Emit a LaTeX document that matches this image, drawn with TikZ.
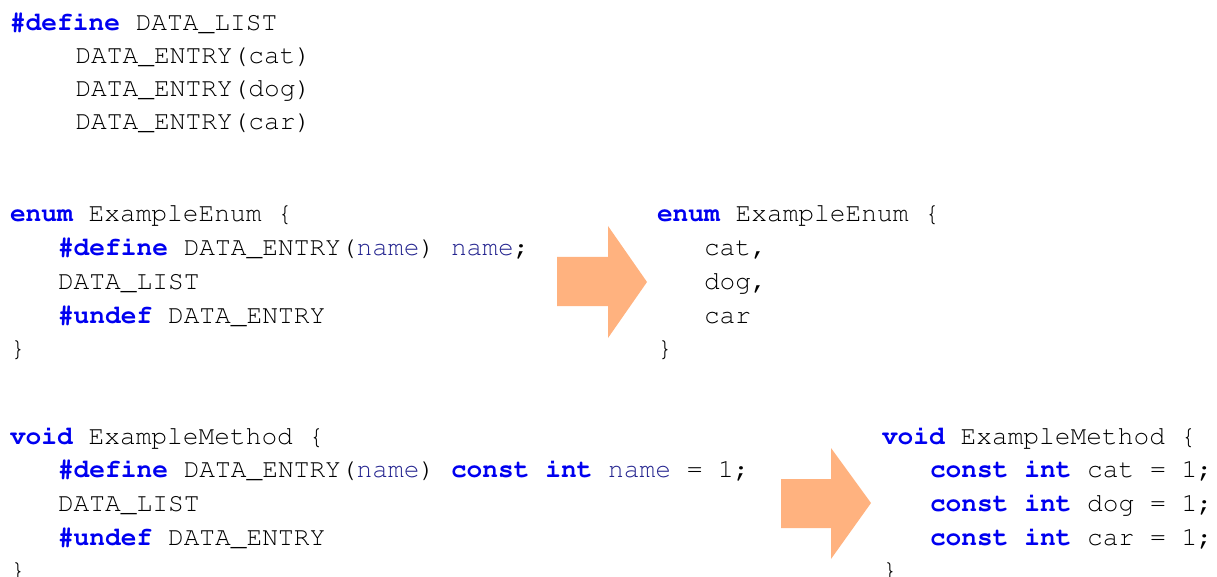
\documentclass[tikz,border=0pt]{standalone}
\usepackage[T1]{fontenc}
\definecolor{kwblue}{HTML}{0000F0}
\definecolor{argblue}{HTML}{24248F}
\definecolor{txtgray}{HTML}{000000}
\definecolor{arrowfill}{HTML}{FFB27F}
\newcommand{\codefont}{\fontencoding{T1}\fontfamily{pcr}\selectfont}
\newcommand{\kw}[1]{{\color{kwblue}\bfseries #1}}
\newcommand{\parm}[1]{{\color{argblue}#1}}
\tikzset{
  codeline/.style={anchor=base west, inner sep=0pt, outer sep=0pt, text=txtgray,
    font=\codefont\fontsize{26.2}{33.7}\selectfont},
  bigarrow/.style={fill=arrowfill, draw=none}
}
\begin{document}
\begin{tikzpicture}[x=1pt,y=-1pt]
\useasboundingbox (0,0) rectangle (1217,577);
% block 1
\node[codeline] (l1a) at (10,31) {\kw{\#define} DATA\_LIST};
\node[codeline] (l1b) at (75.5,64) {DATA\_ENTRY(cat)};
\node[codeline] (l1c) at (75.5,97) {DATA\_ENTRY(dog)};
\node[codeline] (l1d) at (75.5,130) {DATA\_ENTRY(car)};
% block 2
\node[codeline] (l2a) at (10,222) {\kw{enum} ExampleEnum \{};
\node[codeline] (l2b) at (58,255) {\kw{\#define} DATA\_ENTRY(\parm{name}) \parm{name};};
\node[codeline] (l2c) at (58,289) {DATA\_LIST};
\node[codeline] (l2d) at (58,323) {\kw{\#undef} DATA\_ENTRY};
\node[codeline] (l2e) at (10,356) {\}};
% block 3
\node[codeline] (l3a) at (657,222) {\kw{enum} ExampleEnum \{};
\node[codeline] (l3b) at (704,255) {cat,};
\node[codeline] (l3c) at (704,289) {dog,};
\node[codeline] (l3d) at (704,323) {car};
\node[codeline] (l3e) at (657,356) {\}};
% block 4
\node[codeline] (l4a) at (10,444) {\kw{void} ExampleMethod \{};
\node[codeline] (l4b) at (58,477) {\kw{\#define} DATA\_ENTRY(\parm{name}) \kw{const} \kw{int} \parm{name} = 1;};
\node[codeline] (l4c) at (58,511) {DATA\_LIST};
\node[codeline] (l4d) at (58,545) {\kw{\#undef} DATA\_ENTRY};
\node[codeline] (l4e) at (10,578) {\}};
% block 5
\node[codeline] (l5a) at (882,444) {\kw{void} ExampleMethod \{};
\node[codeline] (l5b) at (930,477) {\kw{const} \kw{int} cat = 1;};
\node[codeline] (l5c) at (930,511) {\kw{const} \kw{int} dog = 1;};
\node[codeline] (l5d) at (930,545) {\kw{const} \kw{int} car = 1;};
\node[codeline] (l5e) at (882,578) {\}};
% arrows
\fill[bigarrow] (557,257) -- (608,257) -- (608,226) -- (647,282) -- (608,338) -- (608,306) -- (557,306) -- cycle;
\fill[bigarrow] (781,479) -- (831,479) -- (831,448) -- (871,503) -- (831,559) -- (831,528) -- (781,528) -- cycle;
\end{tikzpicture}
\end{document}
